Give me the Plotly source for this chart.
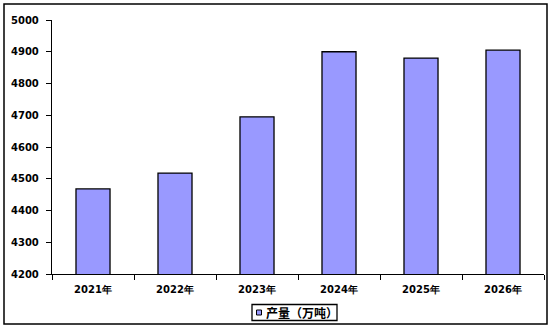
import plotly.graph_objects as go

categories = ["2021年", "2022年", "2023年", "2024年", "2025年", "2026年"]
values = [4468, 4518, 4695, 4900, 4880, 4905]
series_name = "产量（万吨）"
y_ticks = [4200, 4300, 4400, 4500, 4600, 4700, 4800, 4900, 5000]
bar_color = "#9999FF"

L, R, T, B = 52, 10, 20, 56
W, H = 554, 330
pw, ph = W - L - R, H - T - B


def px(x):
    return (x - L) / pw


def py(y):
    return (H - B - y) / ph


fig = go.Figure()
fig.add_trace(go.Bar(
    x=categories, y=values, name=series_name,
    marker=dict(color=bar_color, line=dict(color="black", width=1.3)),
    width=0.415, showlegend=False,
))

tfont = dict(family="DejaVu Sans", size=10, color="black", weight="bold")
fig.update_layout(
    width=W, height=H,
    margin=dict(l=L, r=R, t=T, b=B, autoexpand=False),
    paper_bgcolor="white", plot_bgcolor="white",
    xaxis=dict(range=[-0.5, 5.5], showline=True, linecolor="black", linewidth=1.3,
               ticks="outside", tickson="boundaries", ticklen=5, tickcolor="black",
               tickfont=tfont, ticklabelstandoff=6,
               showgrid=False, zeroline=False),
    yaxis=dict(range=[4200, 5000], tickvals=y_ticks, showline=True, linecolor="black",
               linewidth=1.3, ticks="outside", ticklen=5, tickcolor="black",
               tickfont=tfont, ticklabelstandoff=5,
               showgrid=False, zeroline=False),
    shapes=[
        dict(type="rect", xref="paper", yref="paper",
             x0=px(4), x1=px(547), y0=py(324), y1=py(4),
             line=dict(color="black", width=1.5), fillcolor="rgba(0,0,0,0)"),
        dict(type="rect", xref="paper", yref="paper",
             x0=px(252), x1=px(337), y0=py(320.5), y1=py(304.5),
             line=dict(color="black", width=1.3), fillcolor="white"),
        dict(type="rect", xref="paper", yref="paper",
             x0=px(256.5), x1=px(261.5), y0=py(315), y1=py(310),
             line=dict(color="black", width=1), fillcolor=bar_color),
    ],
    annotations=[dict(text=series_name, xref="paper", yref="paper",
                      x=px(264), y=py(312.5), xanchor="left", yanchor="middle",
                      showarrow=False,
                      font=dict(family="Noto Sans CJK SC", size=12, color="black", weight="bold"))],
)

fig.write_html("out.html")
